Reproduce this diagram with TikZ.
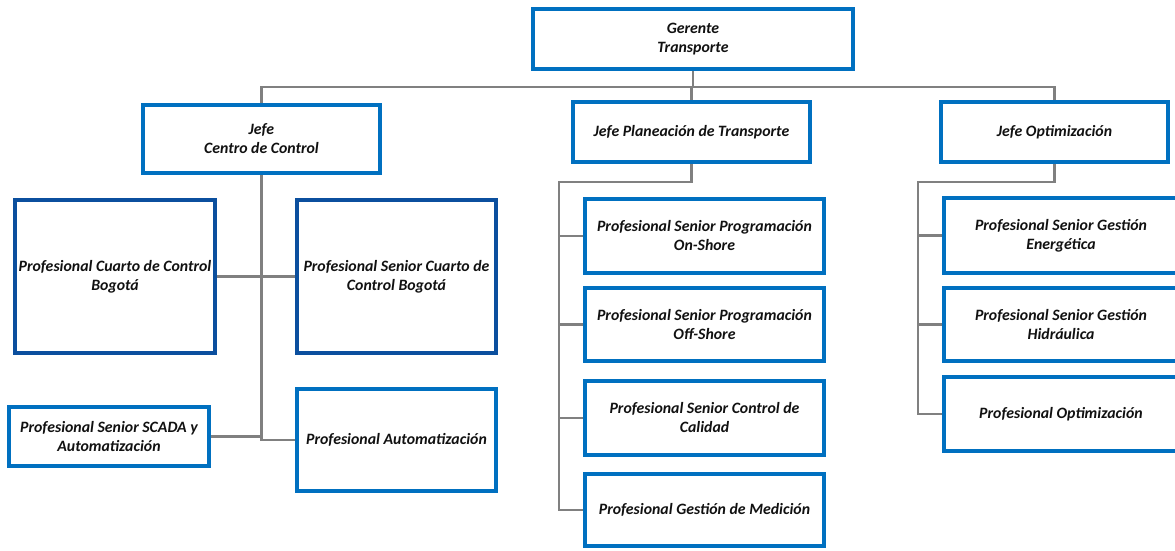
\documentclass[tikz,border=0pt]{standalone}
\usepackage{fontspec}
\setmainfont{Carlito}
\definecolor{lb}{HTML}{0070C0}
\definecolor{db}{HTML}{0B4F9E}
\definecolor{ln}{HTML}{808080}
\definecolor{tx}{HTML}{111111}
\begin{document}
\begin{tikzpicture}[x=1pt,y=-1pt,
  bx/.style={draw=lb,line width=4pt,rectangle,inner sep=0pt,align=center,text=tx,
    font=\fontsize{15.8}{19}\selectfont\bfseries\itshape},
  dbx/.style={bx,draw=db},
  cn/.style={draw=ln,line width=2.2pt}]
\useasboundingbox (0,0) rectangle (1175,550);
\fill[white] (0,0) rectangle (1175,550);
\begin{scope}
\clip (0,0) rectangle (1175,550);
% top
\node[bx,minimum width=320,minimum height=60] (ger) at (693,39) {Gerente\\Transporte};
% level 2
\node[bx,minimum width=237,minimum height=68] (jcc) at (261.5,139) {Jefe\\Centro de Control};
\node[bx,minimum width=237,minimum height=60] (jpt) at (691.5,132) {Jefe Planeación de Transporte};
\node[bx,minimum width=227,minimum height=60] (jop) at (1054.5,132) {Jefe Optimización};
% left branch
\node[dbx,minimum width=200,minimum height=153] (pcc) at (115,276.5) {Profesional Cuarto de Control\\Bogotá};
\node[dbx,minimum width=199,minimum height=153] (psc) at (396.5,276.5) {Profesional Senior Cuarto de\\Control Bogotá};
\node[bx,minimum width=200,minimum height=59] (scada) at (109,436.5) {Profesional Senior SCADA y\\Automatización};
\node[bx,minimum width=199,minimum height=102] (auto) at (396.5,440) {Profesional Automatización};
% middle branch
\node[bx,minimum width=239,minimum height=74] (p1) at (704.5,236) {Profesional Senior Programación\\On-Shore};
\node[bx,minimum width=239,minimum height=73] (p2) at (704.5,324.5) {Profesional Senior Programación\\Off-Shore};
\node[bx,minimum width=239,minimum height=74] (p3) at (704.5,418) {Profesional Senior Control de\\Calidad};
\node[bx,minimum width=239,minimum height=72] (p4) at (704.5,510) {Profesional Gestión de Medición};
% right branch
\node[bx,minimum width=234,minimum height=75] (o1) at (1061,235.5) {Profesional Senior Gestión\\Energética};
\node[bx,minimum width=234,minimum height=73] (o2) at (1061,324.5) {Profesional Senior Gestión\\Hidráulica};
\node[bx,minimum width=234,minimum height=74] (o3) at (1061,414) {Profesional Optimización};
% connectors
\coordinate (bus) at (0,87);
\coordinate (pspine) at (559,182);
\coordinate (ospine) at (918,182);
\draw[cn] (ger.south) -- (ger.south |- bus);
\draw[cn] (jcc.north) |- (bus -| jop.north) -- (jop.north);
\draw[cn] (jpt.north |- bus) -- (jpt.north);
\draw[cn] (jcc.south) -- (jcc.south |- auto.west) -- (auto.west);
\draw[cn] (pcc.east) -- (psc.west);
\draw[cn] (scada.east) -- (scada.east -| jcc.south);
\draw[cn] (jpt.south) |- (pspine) -- (pspine |- p4.west) -- (p4.west);
\draw[cn] (pspine |- p1.west) -- (p1.west);
\draw[cn] (pspine |- p2.west) -- (p2.west);
\draw[cn] (pspine |- p3.west) -- (p3.west);
\draw[cn] (jop.south) |- (ospine) -- (ospine |- o3.west) -- (o3.west);
\draw[cn] (ospine |- o1.west) -- (o1.west);
\draw[cn] (ospine |- o2.west) -- (o2.west);
\end{scope}
\end{tikzpicture}
\end{document}
